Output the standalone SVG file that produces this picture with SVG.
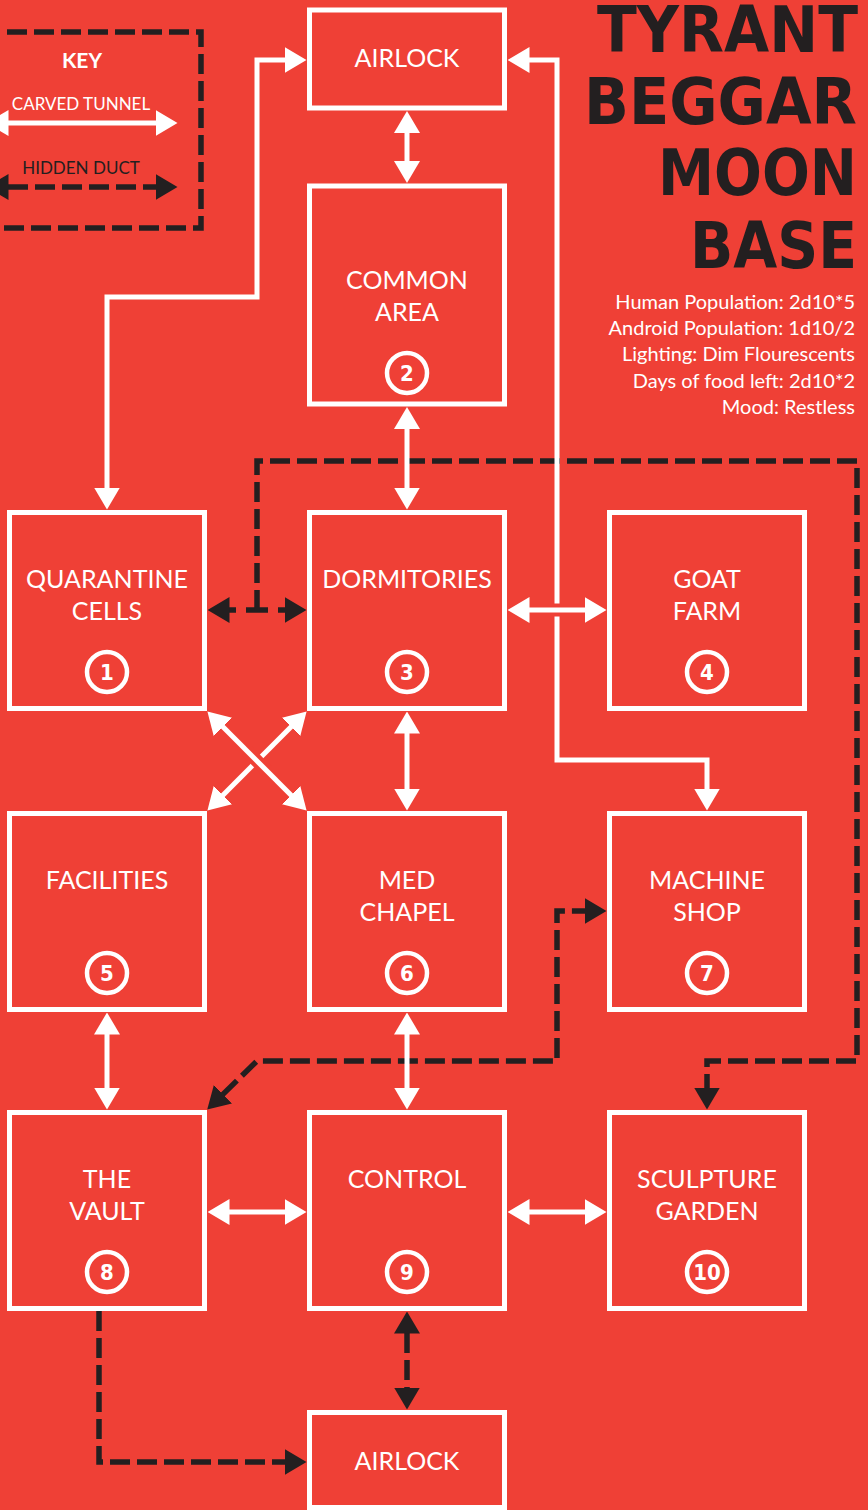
<svg xmlns="http://www.w3.org/2000/svg" width="868" height="1510" viewBox="0 0 868 1510">
<defs>
<marker id="aw" viewBox="0 0 22 26" markerWidth="22" markerHeight="26" refX="0.5" refY="13" orient="auto-start-reverse" markerUnits="userSpaceOnUse"><path d="M0,0 L22,13 L0,26 Z" fill="#ffffff"/></marker>
<marker id="ad" viewBox="0 0 22 26" markerWidth="22" markerHeight="26" refX="0.5" refY="13" orient="auto-start-reverse" markerUnits="userSpaceOnUse"><path d="M0,0 L22,13 L0,26 Z" fill="#231f20"/></marker>
<style>
.box{fill:#ef4036;stroke:#ffffff;stroke-width:5}
.lbl{font-family:Lato,"Open Sans",sans-serif;font-size:25px;fill:#ffffff;text-anchor:middle}
.num circle{fill:none;stroke:#ffffff;stroke-width:4.5}
.num text{font-family:"Liberation Sans Narrow","DejaVu Sans Condensed",Roboto,sans-serif;font-weight:bold;font-size:22px;fill:#ffffff;text-anchor:middle}
.tw{fill:none;stroke:#ffffff;stroke-width:5;stroke-linejoin:miter}
.tw2{fill:none;stroke:#ffffff;stroke-width:5;marker-start:url(#aw);marker-end:url(#aw)}
.gap{fill:none;stroke:#ef4036;stroke-width:13}
.dd{fill:none;stroke:#231f20;stroke-width:5.5;stroke-dasharray:20 7}
.ddm{fill:none;stroke:#231f20;stroke-width:5.5;stroke-dasharray:20 7;marker-start:url(#ad);marker-end:url(#ad)}
.title{font-family:"DejaVu Sans",sans-serif;font-weight:bold;font-size:57px;fill:#231f20}
.stat{font-family:Lato,"Open Sans",sans-serif;font-size:20px;fill:#ffffff;text-anchor:end}
</style>
</defs>
<rect x="0" y="0" width="868" height="1510" fill="#ef4036"/>

<g id="key">
<path d="M-20,32 H201 V228 H-20" class="dd"/>
<text x="82" y="68" font-family="Lato,sans-serif" font-weight="bold" font-size="21" fill="#ffffff" text-anchor="middle">KEY</text>
<text x="81" y="110" font-family="Lato,sans-serif" font-size="17" fill="#ffffff" text-anchor="middle">CARVED TUNNEL</text>
<line x1="8" y1="123" x2="156" y2="123" class="tw2"/>
<text x="81" y="174" font-family="Lato,sans-serif" font-size="17" fill="#231f20" text-anchor="middle">HIDDEN DUCT</text>
<line x1="8" y1="187" x2="156" y2="187" class="ddm"/>
</g>

<g id="title">
<text class="title" transform="translate(597,52) scale(1,1.12)" textLength="261" lengthAdjust="spacingAndGlyphs">TYRANT</text>
<text class="title" transform="translate(584,124) scale(1,1.12)" textLength="273" lengthAdjust="spacingAndGlyphs">BEGGAR</text>
<text class="title" transform="translate(658,195) scale(1,1.12)" textLength="199" lengthAdjust="spacingAndGlyphs">MOON</text>
<text class="title" transform="translate(690,268) scale(1,1.12)" textLength="167" lengthAdjust="spacingAndGlyphs">BASE</text>
</g>

<g id="stats">
<text class="stat" x="855" y="309">Human Population: 2d10*5</text>
<text class="stat" x="855" y="335">Android Population: 1d10/2</text>
<text class="stat" x="855" y="361">Lighting: Dim Flourescents</text>
<text class="stat" x="855" y="388">Days of food left: 2d10*2</text>
<text class="stat" x="855" y="414">Mood: Restless</text>
</g>

<g id="connectors">
<!-- hidden ducts -->
<line x1="229" y1="610" x2="236" y2="610" stroke="#231f20" stroke-width="5.5"/>
<line x1="246" y1="610" x2="268" y2="610" stroke="#231f20" stroke-width="5.5"/>
<line x1="278" y1="610" x2="285" y2="610" stroke="#231f20" stroke-width="5.5"/>
<path d="M229,610 L229,610" fill="none" stroke="none" marker-start="url(#ad)"/>
<path d="M285,610 L285.01,610" fill="none" stroke="none" marker-end="url(#ad)"/>
<path d="M257,610 V461 H857 V1061 H707 V1088" class="dd" marker-end="url(#ad)"/>
<path d="M222.6,1094.6 L257,1061 H557 V911 H585" class="ddm"/>
<line x1="407" y1="1333" x2="407" y2="1388" class="ddm"/>
<path d="M99,1311 V1462 H285" class="dd" marker-end="url(#ad)"/>

<!-- carved tunnels -->
<line x1="407" y1="132.5" x2="407" y2="161.5" class="tw2"/>
<line x1="407" y1="428.5" x2="407" y2="488" class="tw2"/>
<path d="M285,60 H257 V297 H107 V488" class="tw2"/>
<path d="M529,60 H557 V760 H707 V789" class="tw" marker-start="url(#aw)" marker-end="url(#aw)"/>
<line x1="548" y1="610" x2="566" y2="610" class="gap"/>
<line x1="529" y1="610" x2="585" y2="610" class="tw2"/>
<line x1="407" y1="733" x2="407" y2="789" class="tw2"/>
<line x1="291.4" y1="726.6" x2="222.6" y2="795.4" class="tw2"/>
<line x1="247" y1="751" x2="267" y2="771" class="gap"/>
<line x1="222.6" y1="726.6" x2="291.4" y2="795.4" class="tw2"/>
<line x1="107" y1="1034" x2="107" y2="1088" class="tw2"/>
<line x1="407" y1="1034" x2="407" y2="1088" class="tw2"/>
<line x1="229" y1="1212" x2="285" y2="1212" class="tw2"/>
<line x1="529" y1="1212" x2="585" y2="1212" class="tw2"/>
</g>

<g id="airlock-top">
<rect class="box" x="309.5" y="10" width="195" height="98"/>
<text class="lbl" x="407" y="67">AIRLOCK</text>
</g>
<g id="common-area">
<rect class="box" x="309.5" y="186" width="195" height="218"/>
<text class="lbl" x="407" y="289">COMMON</text>
<text class="lbl" x="407" y="321">AREA</text>
<g class="num"><circle cx="407" cy="373" r="20"/><text x="407" y="381">2</text></g>
</g>
<g id="quarantine">
<rect class="box" x="9.5" y="512.5" width="195" height="196"/>
<text class="lbl" x="107" y="588">QUARANTINE</text>
<text class="lbl" x="107" y="620">CELLS</text>
<g class="num"><circle cx="107" cy="672" r="20"/><text x="107" y="680">1</text></g>
</g>
<g id="dormitories">
<rect class="box" x="309.5" y="512.5" width="195" height="196"/>
<text class="lbl" x="407" y="588">DORMITORIES</text>
<g class="num"><circle cx="407" cy="672" r="20"/><text x="407" y="680">3</text></g>
</g>
<g id="goat-farm">
<rect class="box" x="609.5" y="512.5" width="195" height="196"/>
<text class="lbl" x="707" y="588">GOAT</text>
<text class="lbl" x="707" y="620">FARM</text>
<g class="num"><circle cx="707" cy="672" r="20"/><text x="707" y="680">4</text></g>
</g>
<g id="facilities">
<rect class="box" x="9.5" y="813.5" width="195" height="196"/>
<text class="lbl" x="107" y="889">FACILITIES</text>
<g class="num"><circle cx="107" cy="973" r="20"/><text x="107" y="981">5</text></g>
</g>
<g id="med-chapel">
<rect class="box" x="309.5" y="813.5" width="195" height="196"/>
<text class="lbl" x="407" y="889">MED</text>
<text class="lbl" x="407" y="921">CHAPEL</text>
<g class="num"><circle cx="407" cy="973" r="20"/><text x="407" y="981">6</text></g>
</g>
<g id="machine-shop">
<rect class="box" x="609.5" y="813.5" width="195" height="196"/>
<text class="lbl" x="707" y="889">MACHINE</text>
<text class="lbl" x="707" y="921">SHOP</text>
<g class="num"><circle cx="707" cy="973" r="20"/><text x="707" y="981">7</text></g>
</g>
<g id="vault">
<rect class="box" x="9.5" y="1112.5" width="195" height="196"/>
<text class="lbl" x="107" y="1188">THE</text>
<text class="lbl" x="107" y="1220">VAULT</text>
<g class="num"><circle cx="107" cy="1272" r="20"/><text x="107" y="1280">8</text></g>
</g>
<g id="control">
<rect class="box" x="309.5" y="1112.5" width="195" height="196"/>
<text class="lbl" x="407" y="1188">CONTROL</text>
<g class="num"><circle cx="407" cy="1272" r="20"/><text x="407" y="1280">9</text></g>
</g>
<g id="sculpture-garden">
<rect class="box" x="609.5" y="1112.5" width="195" height="196"/>
<text class="lbl" x="707" y="1188">SCULPTURE</text>
<text class="lbl" x="707" y="1220">GARDEN</text>
<g class="num"><circle cx="707" cy="1272" r="20"/><text x="707" y="1280">10</text></g>
</g>
<g id="airlock-bottom">
<rect class="box" x="309.5" y="1412.5" width="195" height="95"/>
<text class="lbl" x="407" y="1470">AIRLOCK</text>
</g>
</svg>
